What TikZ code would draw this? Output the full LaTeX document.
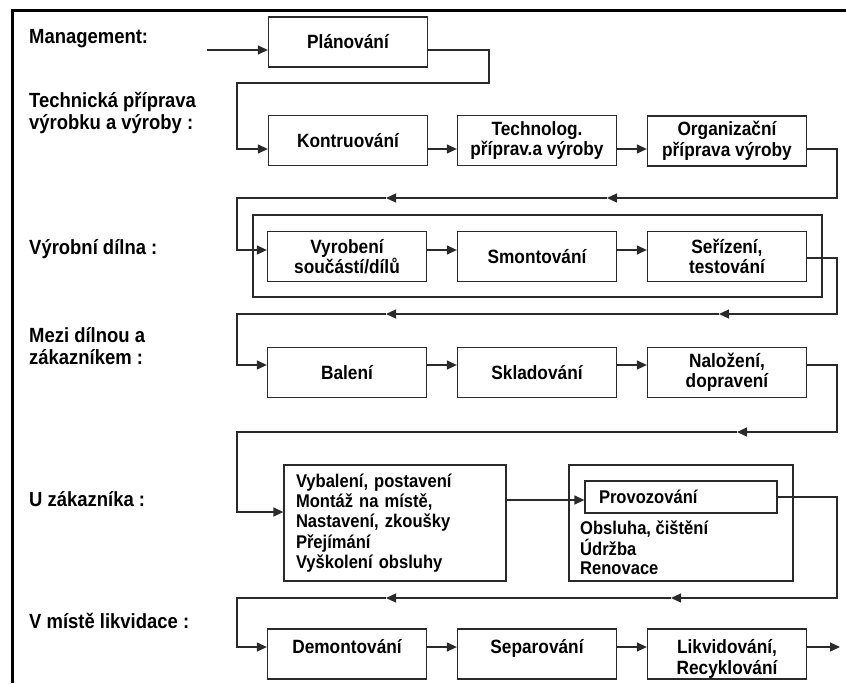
\documentclass[tikz,border=0pt]{standalone}
\usepackage{fontspec}
\setmainfont{Liberation Sans}[FakeStretch=0.9]
\usetikzlibrary{arrows.meta}
\definecolor{ink}{HTML}{2A2A2A}
\newcommand\bxfont{\fontsize{19.2}{20.5}\bfseries\selectfont}
\newcommand\lstfont{\fontsize{18.4}{20.3}\bfseries\selectfont}
\newcommand\lblfont{\fontsize{20.5}{22}\bfseries\selectfont}
% text set near the top of a box: baseline of the first line lowered a little
\newcommand\toptext[1]{\raisebox{-4pt}[15pt][24pt]{\begin{tabular}[t]{@{}c@{}}#1\end{tabular}}}
\begin{document}
\begin{tikzpicture}[x=1pt,y=-1pt,
  line/.style={draw=ink, line width=1.3pt},
  arr/.style={line, -{Triangle[length=10pt,width=9pt]}},
  stepbox/.style={line, minimum width=159pt, minimum height=50pt, inner sep=0pt, align=center, font=\bxfont},
  rowlabel/.style={anchor=west, align=left, inner sep=0pt, font=\lblfont},
]
\fill[white] (0,0) rectangle (846,683);
\useasboundingbox (0,0) rectangle (846,683);

% frame
\draw[line width=3pt] (12,683) -- (12,10) -- (846,10);

% row heights of the connectors
\coordinate (y0) at (0,50);
\coordinate (yT) at (0,149);
\coordinate (yV) at (0,250);
\coordinate (yVo) at (0,258);
\coordinate (yM) at (0,365);
\coordinate (yU) at (0,512);
\coordinate (yUa) at (0,500);
\coordinate (yUb) at (0,497);
\coordinate (yL) at (0,647);

% row labels
\node[rowlabel] (lmgmt) at (29,38.5) {Management:};
\node[rowlabel] (ltech) at (29,113) {Technická příprava\\výrobku a výroby :};
\node[rowlabel] (ldil) at (29,249) {Výrobní dílna :};
\node[rowlabel] (lmez) at (29,346) {Mezi dílnou a\\zákazníkem :};
\node[rowlabel] (lzak) at (29,499) {U zákazníka :};
\node[rowlabel] (llik) at (29,621) {V místě likvidace :};

% management
\node[stepbox] (plan) at (348,42) {Plánování};

% technical preparation
\node[stepbox] (kon) at (348,140.5) {Kontruování};
\node[stepbox] (tech) at (537,140.5) {Technolog.\\příprav.a výroby};
\node[stepbox] (org) at (727,141) {Organizační\\příprava výroby};

% workshop
\node[line, minimum width=569pt, minimum height=82pt, inner sep=0pt] (dilna) at (537.5,256) {};
\node[stepbox] (vyr) at (347,256.5) {Vyrobení\\součástí/dílů};
\node[stepbox] (smo) at (537,256.5) {Smontování};
\node[stepbox] (ser) at (727,256.5) {Seřízení,\\testování};

% between workshop and customer
\node[stepbox] (bal) at (347,372.5) {Balení};
\node[stepbox] (skl) at (537,372.5) {Skladování};
\node[stepbox] (nal) at (727,372.5) {Naložení,\\dopravení};

% at the customer
\node[line, minimum height=116pt, text width=198pt, inner xsep=12pt, inner ysep=0pt, align=left,
      font=\lstfont] (vyb) at (395,523)
  {Vybalení, postavení\\Montáž na místě,\\Nastavení, zkoušky\\Přejímání\\Vyškolení obsluhy};
\node[line, minimum width=224pt, minimum height=116pt, inner sep=0pt] (provbox) at (681,523) {};
\node[line, minimum height=32pt, text width=164pt, inner xsep=14pt, inner ysep=0pt, align=left, font=\lstfont] (prov) at (681,497) {Provozování};
\node[anchor=north west, align=left, inner sep=0pt, font=\fontsize{18.4}{19}\bfseries\selectfont] (udrz) at (580,521)
  {Obsluha, čištění\\Údržba\\Renovace};

% disposal
\node[stepbox] (dem) at (347,654) {\toptext{Demontování}};
\node[stepbox] (sep) at (537,654) {\toptext{Separování}};
\node[stepbox] (lik) at (727,654) {\toptext{Likvidování,\\Recyklování}};

% connectors
\coordinate (start) at (207,50);
\draw[arr] (start) -- (plan.west |- y0);
\draw[arr] (plan.east |- y0) -| (489,83) -| (237,149) -- (kon.west |- yT);
\draw[arr] (kon.east |- yT) -- (tech.west |- yT);
\draw[arr] (tech.east |- yT) -- (org.west |- yT);

\draw[arr] (org.east |- yT) -| (837,198) -- (607,198);
\draw[arr] (607,198) -- (386,198);
\draw[arr] (386,198) -| (237,250) -- (vyr.west |- yV);
\draw[arr] (vyr.east |- yV) -- (smo.west |- yV);
\draw[arr] (smo.east |- yV) -- (ser.west |- yV);

\draw[arr] (ser.east |- yVo) -| (837,314) -- (719,314);
\draw[arr] (719,314) -- (386,314);
\draw[arr] (386,314) -| (237,365) -- (bal.west |- yM);
\draw[arr] (bal.east |- yM) -- (skl.west |- yM);
\draw[arr] (skl.east |- yM) -- (nal.west |- yM);

\draw[arr] (nal.east |- yM) -| (837,432) -- (737,432);
\draw[arr] (737,432) -| (237,512) -- (vyb.west |- yU);
\draw[arr] (vyb.east |- yUa) -- (prov.west |- yUa);

\draw[arr] (prov.east |- yUb) -| (837,598) -- (671,598);
\draw[arr] (671,598) -- (386,598);
\draw[arr] (386,598) -| (237,647) -- (dem.west |- yL);
\draw[arr] (dem.east |- yL) -- (sep.west |- yL);
\draw[arr] (sep.east |- yL) -- (lik.west |- yL);
\coordinate (finish) at (840,647);
\draw[arr] (lik.east |- yL) -- (finish);
\end{tikzpicture}
\end{document}
